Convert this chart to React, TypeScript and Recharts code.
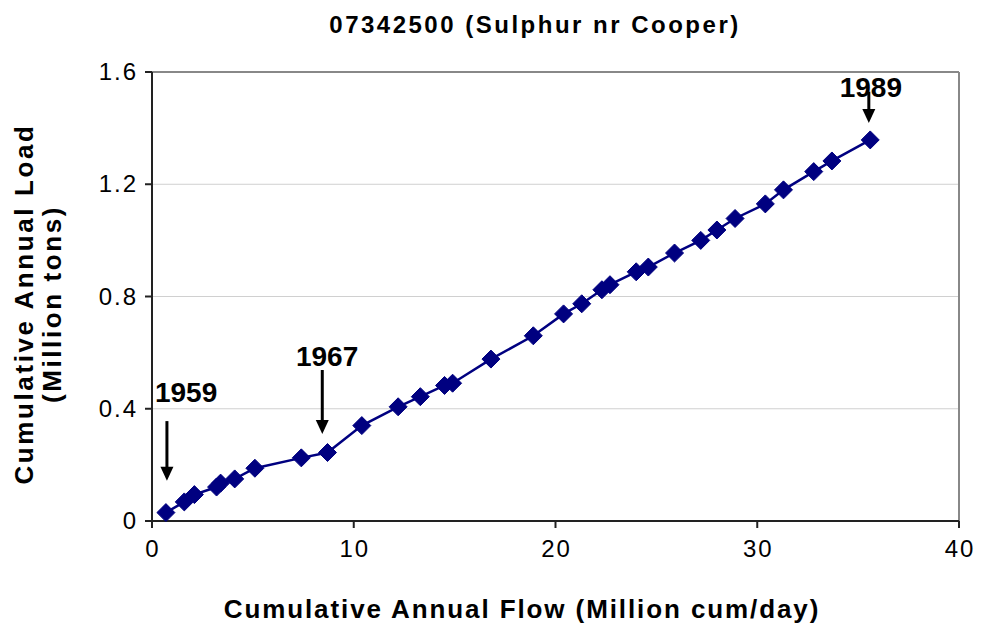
import React from 'react';
import { ComposedChart, Line, XAxis, YAxis, CartesianGrid, ReferenceLine, ReferenceDot } from 'recharts';

const flowX = [0.69, 1.6, 2.1, 3.2, 3.4, 4.1, 5.1, 7.4, 8.7, 10.4, 12.2, 13.3, 14.5, 14.9, 16.8, 18.9, 20.4, 21.3, 22.3, 22.7, 24.0, 24.6, 25.9, 27.2, 28.0, 28.9, 30.4, 31.3, 32.8, 33.7, 35.6];
const loadY = [0.030, 0.068, 0.094, 0.121, 0.135, 0.150, 0.188, 0.225, 0.244, 0.340, 0.407, 0.443, 0.483, 0.491, 0.577, 0.660, 0.738, 0.774, 0.824, 0.842, 0.888, 0.905, 0.955, 1.000, 1.037, 1.078, 1.130, 1.180, 1.245, 1.283, 1.358];
const xTicks = [0, 10, 20, 30, 40];
const yTicks = [0, 0.4, 0.8, 1.2, 1.6];
const annoLabels = ['1959', '1967', '1989'];
const annoArrowX = [0.74, 8.44, 35.53];
const annoArrowTop = [0.356, 0.538, 1.53];
const annoArrowTip = [0.143, 0.31, 1.418];
const annoLabelX = [1.69, 8.68, 35.63];
const annoLabelY = [0.424, 0.552, 1.511];

const data = flowX.map((x, i) => ({ x, y: loadY[i] }));
const FONT = '"Liberation Sans", Arial, sans-serif';
const NAVY = '#000080';

const Diamond = (props: any) => {
  const { cx, cy } = props;
  if (cx == null || cy == null) return null;
  const r = 9;
  return <polygon points={`${cx},${cy - r} ${cx + r},${cy} ${cx},${cy + r} ${cx - r},${cy}`} fill={NAVY} stroke={NAVY} strokeWidth={1} />;
};

const YTick = (props: any) => {
  const { x, y, payload } = props;
  return (
    <text x={x + 2} y={y} dy={8} textAnchor="end" fontFamily={FONT} fontSize={24} letterSpacing={2} fill="#000">
      {String(payload.value)}
    </text>
  );
};

const XTick = (props: any) => {
  const { x, y, payload } = props;
  return (
    <text x={x + 1} y={y} dy={25} textAnchor="middle" fontFamily={FONT} fontSize={24} letterSpacing={2} fill="#000">
      {String(payload.value)}
    </text>
  );
};

const Arrow = (props: any) => {
  const { x1, y1, x2, y2 } = props;
  if (x1 == null) return null;
  const head = 14;
  const hw = 6.5;
  return (
    <g>
      <line x1={x1} y1={y1} x2={x2} y2={y2 - head + 1} stroke="#000" strokeWidth={3} />
      <polygon points={`${x2},${y2} ${x2 - hw},${y2 - head} ${x2 + hw},${y2 - head}`} fill="#000" />
    </g>
  );
};

const makeLabel = (text: string) => (props: any) => {
  const { cx, cy } = props;
  if (cx == null) return null;
  return (
    <text x={cx} y={cy} textAnchor="middle" fontFamily={FONT} fontSize={28} fontWeight="bold" fill="#000">
      {text}
    </text>
  );
};

export default function App() {
  return (
    <div style={{ position: 'absolute', left: 0, top: 0, width: 982, height: 631, background: '#fff' }}>
      <ComposedChart width={982} height={631} data={data} margin={{ top: 72, right: 23, bottom: 70, left: 92 }}>
        <CartesianGrid horizontal vertical={false} stroke="#d0d0d0" strokeWidth={1} />
        <XAxis
          dataKey="x"
          type="number"
          domain={[0, 40]}
          ticks={xTicks}
          height={40}
          tickSize={7}
          tickMargin={4}
          interval={0}
          axisLine={{ stroke: '#222', strokeWidth: 2 }}
          tickLine={{ stroke: '#222', strokeWidth: 2 }}
          tick={<XTick />}
        />
        <YAxis
          type="number"
          domain={[0, 1.6]}
          ticks={yTicks}
          width={60}
          tickSize={7}
          tickMargin={9}
          interval={0}
          axisLine={{ stroke: '#222', strokeWidth: 2 }}
          tickLine={{ stroke: '#222', strokeWidth: 2 }}
          tick={<YTick />}
        />
        <ReferenceLine y={1.6} stroke="#888" strokeWidth={2} />
        <ReferenceLine x={40} stroke="#888" strokeWidth={2} />
        <Line dataKey="y" stroke={NAVY} strokeWidth={2.5} dot={<Diamond />} activeDot={false} isAnimationActive={false} />
        {annoLabels.map((t, i) => (
          <ReferenceLine
            key={'a' + t}
            segment={[{ x: annoArrowX[i], y: annoArrowTop[i] }, { x: annoArrowX[i], y: annoArrowTip[i] }]}
            shape={(p: any) => <Arrow {...p} />}
            ifOverflow="visible"
          />
        ))}
        {annoLabels.map((t, i) => (
          <ReferenceDot key={'l' + t} x={annoLabelX[i]} y={annoLabelY[i]} r={0} shape={makeLabel(t)} ifOverflow="visible" />
        ))}
      </ComposedChart>
      <svg width={982} height={631} style={{ position: 'absolute', left: 0, top: 0, pointerEvents: 'none' }}>
        <text x={535} y={33} textAnchor="middle" fontFamily={FONT} fontSize={24} fontWeight="bold" letterSpacing={2.5} fill="#000">
          07342500 (Sulphur nr Cooper)
        </text>
        <text x={522} y={618} textAnchor="middle" fontFamily={FONT} fontSize={26} fontWeight="bold" letterSpacing={1.9} fill="#000">
          Cumulative Annual Flow (Million cum/day)
        </text>
        <text transform="translate(33,304) rotate(-90)" textAnchor="middle" fontFamily={FONT} fontSize={26} fontWeight="bold" letterSpacing={2.6} fill="#000">
          Cumulative Annual Load
        </text>
        <text transform="translate(61,304) rotate(-90)" textAnchor="middle" fontFamily={FONT} fontSize={26} fontWeight="bold" letterSpacing={2.6} fill="#000">
          (Million tons)
        </text>
      </svg>
    </div>
  );
}
